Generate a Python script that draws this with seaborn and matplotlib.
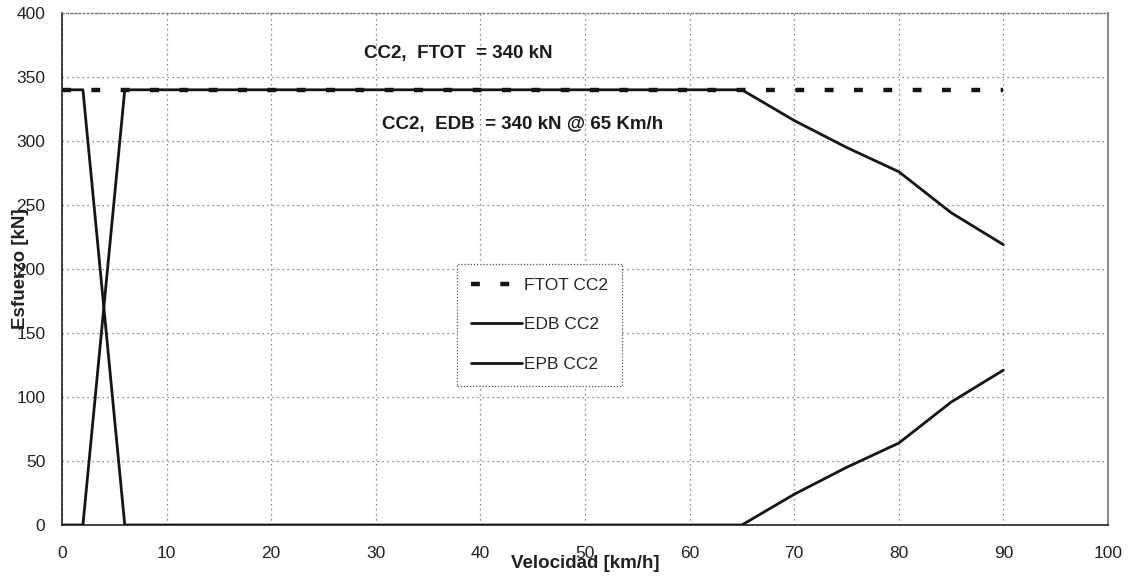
import matplotlib
matplotlib.use("Agg")
import matplotlib.pyplot as plt
import seaborn as sns
import pandas as pd

# ---- data ----
ftot_speed = [0, 90]
ftot_force = [340, 340]

edb_speed = [0, 2, 6, 65, 70, 75, 80, 85, 90]
edb_force = [0, 0, 340, 340, 316, 295, 276, 244, 219]

epb_speed = [0, 2, 6, 65, 70, 75, 80, 85, 90]
epb_force = [340, 340, 0, 0, 24, 45, 64, 96, 121]

series_labels = ["FTOT CC2", "EDB CC2", "EPB CC2"]
x_ticks = list(range(0, 101, 10))
y_ticks = list(range(0, 401, 50))

note_ftot = "CC2,  FTOT  = 340 kN"
note_edb = "CC2,  EDB  = 340 kN @ 65 Km/h"
x_label = "Velocidad [km/h]"
y_label = "Esfuerzo [kN]"

# ---- styling ----
sns.set_theme(style="white")
plt.rcParams["font.family"] = ["Liberation Sans", "DejaVu Sans"]

fig = plt.figure(figsize=(11.32, 5.77), dpi=100)
ax = fig.add_axes([62 / 1132, 1 - 525 / 577, (1108 - 62) / 1132, (525 - 13) / 577])

df_ftot = pd.DataFrame({"v": ftot_speed, "f": ftot_force})
df_edb = pd.DataFrame({"v": edb_speed, "f": edb_force})
df_epb = pd.DataFrame({"v": epb_speed, "f": epb_force})

line_col = "#151515"
sns.lineplot(data=df_edb, x="v", y="f", ax=ax, color=line_col, lw=2.0,
             label=series_labels[1], zorder=3, sort=False)
sns.lineplot(data=df_epb, x="v", y="f", ax=ax, color=line_col, lw=2.0,
             label=series_labels[2], zorder=3, sort=False)
sns.lineplot(data=df_ftot, x="v", y="f", ax=ax, color=line_col, lw=3.2,
             label=series_labels[0], zorder=4, sort=False)
ftot_line = ax.get_lines()[-1]
ftot_line.set_dashes([2.0, 4.6])

ax.set_xlim(0, 100)
ax.set_ylim(0, 400)
ax.set_xticks(x_ticks)
ax.set_yticks(y_ticks)
ax.grid(True, color="#666666", linestyle=(0, (1, 3)), linewidth=0.9)
ax.tick_params(axis="both", labelsize=12.5, length=3, width=0.8,
               color="#666666", colors="#222222", direction="out")
ax.tick_params(axis="x", pad=12)
ax.tick_params(axis="y", pad=9)

for side in ["left", "bottom"]:
    ax.spines[side].set_color("#222222")
    ax.spines[side].set_linewidth(1.2)
ax.spines["top"].set_color("#777777")
ax.spines["top"].set_linestyle((0, (1, 2)))
ax.spines["top"].set_linewidth(1.0)
ax.spines["right"].set_color("#888888")
ax.spines["right"].set_linewidth(1.4)

ax.set_xlabel(x_label, fontsize=13.5, fontweight="bold", color="#222222")
ax.set_ylabel(y_label, fontsize=13.5, fontweight="bold", color="#222222")
ax.xaxis.set_label_coords(0.5, -0.058)
ax.yaxis.set_label_coords(-0.032, 0.5)

ax.text(37.9, 368.5, note_ftot, fontsize=13.5, fontweight="bold",
        ha="center", va="center", color="#1a1a1a")
ax.text(44.0, 313.0, note_edb, fontsize=13.5, fontweight="bold",
        ha="center", va="center", color="#1a1a1a")

handles, labels = ax.get_legend_handles_labels()
order = [labels.index(l) for l in series_labels]
leg = ax.legend([handles[i] for i in order], [labels[i] for i in order],
                loc="upper left", bbox_to_anchor=(0.378, 0.51),
                borderaxespad=0, fontsize=12.5, frameon=True, fancybox=False,
                handlelength=2.9, handletextpad=0.15, labelspacing=1.4,
                borderpad=0.8, edgecolor="#555555", facecolor="white",
                framealpha=1)
leg.get_frame().set_linestyle((0, (1, 1.5)))
leg.get_frame().set_linewidth(0.9)

fig.savefig("out.png", dpi=100)
